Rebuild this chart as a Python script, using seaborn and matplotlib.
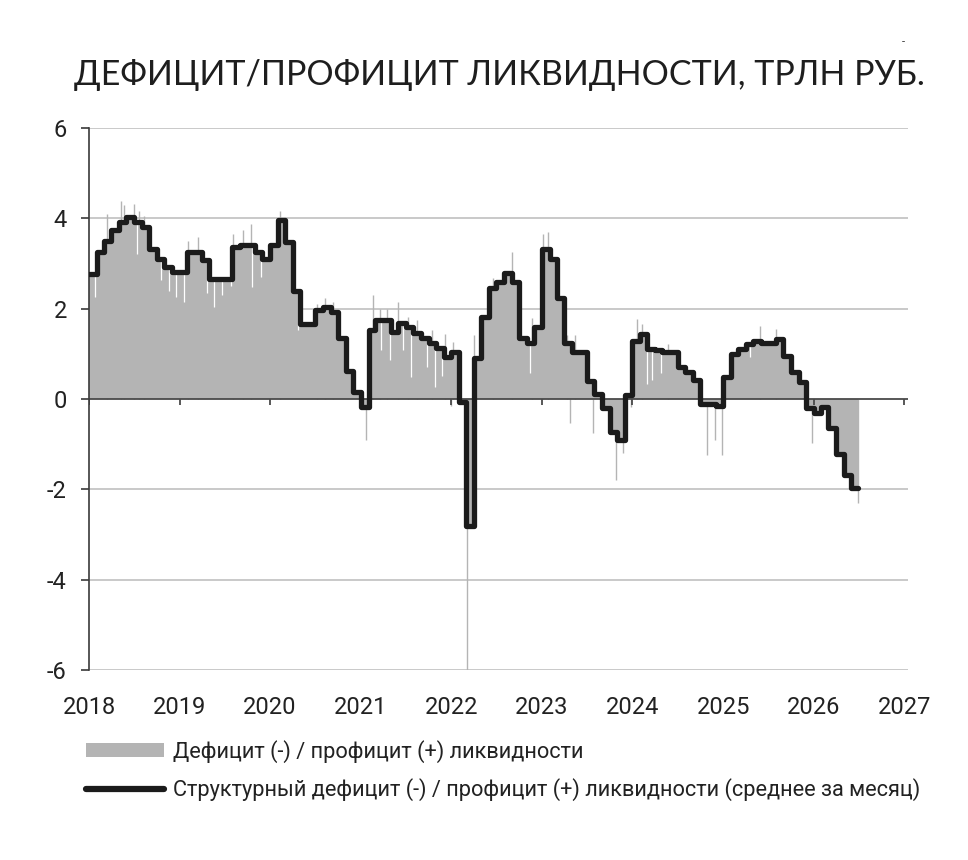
"""Liquidity deficit / surplus of the Russian banking sector, trn RUB."""

import numpy as np
import pandas as pd
import matplotlib
matplotlib.use("Agg")
import matplotlib.pyplot as plt
import matplotlib.dates as mdates
from matplotlib.patches import Patch
from matplotlib.lines import Line2D
import seaborn as sns

TITLE = "ДЕФИЦИТ/ПРОФИЦИТ ЛИКВИДНОСТИ, ТРЛН РУБ."
LABEL_DAILY = "Дефицит (-) / профицит (+) ликвидности"
LABEL_STRUCT = "Структурный дефицит (-) / профицит (+) ликвидности (среднее за месяц)"

MONTH_START = "2018-01-01"
DATA_END = "2026-06-27"

# monthly average structural liquidity, Jan 2018 .. Jun 2026
structural = [
    2.77, 3.25, 3.50, 3.74, 3.91, 4.02, 3.91, 3.80, 3.32, 3.10, 2.92, 2.81,
    2.81, 3.25, 3.25, 3.07, 2.66, 2.66, 2.66, 3.36, 3.40, 3.40, 3.25, 3.10,
    3.40, 3.96, 3.47, 2.40, 1.67, 1.67, 1.96, 2.04, 1.93, 1.35, 0.61, 0.15,
    -0.18, 1.53, 1.75, 1.75, 1.49, 1.68, 1.60, 1.46, 1.35, 1.24, 1.13, 0.94,
    1.03, -0.07, -2.81, 0.90, 1.82, 2.45, 2.60, 2.78, 2.60, 1.35, 1.24, 1.60,
    3.33, 3.11, 2.23, 1.24, 1.05, 1.05, 0.40, 0.12, -0.19, -0.73, -0.91, 0.08,
    1.29, 1.44, 1.11, 1.08, 1.04, 1.04, 0.71, 0.60, 0.41, -0.12, -0.12, -0.16,
    0.49, 1.00, 1.11, 1.22, 1.29, 1.24, 1.24, 1.33, 0.96, 0.60, 0.37, -0.21,
    -0.32, -0.18, -0.65, -1.21, -1.68, -1.98,
]

# single days where the daily balance jumped away from the monthly level
spike_dates = [
    "2018-03-15", "2018-05-12", "2018-05-24", "2018-07-03", "2018-07-23", "2018-08-12",
    "2019-02-03", "2019-03-15", "2019-08-03", "2019-09-12", "2019-10-18", "2020-02-09",
    "2020-07-07", "2020-08-08", "2020-09-10", "2021-01-21", "2021-02-17", "2021-03-18",
    "2021-04-15", "2021-05-30", "2021-07-09", "2021-08-15", "2021-10-15", "2021-12-06",
    "2021-12-29", "2022-01-07", "2022-03-04", "2022-04-02", "2022-06-18", "2022-09-03",
    "2022-11-22", "2023-01-05", "2023-01-25", "2023-04-11", "2023-04-26", "2023-05-14",
    "2023-07-25", "2023-10-26", "2023-11-23", "2023-12-28", "2024-01-18", "2024-02-07",
    "2024-05-23", "2024-10-27", "2024-11-30", "2024-12-27", "2025-05-31", "2025-08-03",
    "2025-12-25", "2026-06-27",
]
spike_values = [
    4.10, 4.39, 4.30, 4.32, 4.17, 4.06,
    3.50, 3.58, 3.66, 3.75, 3.88, 4.17,
    2.10, 2.23, 2.15, -0.90, 2.30, 2.00,
    2.00, 2.15, 1.82, 1.75, 1.53, 1.45,
    -0.16, 1.27, -6.00, 1.42, 2.67, 3.26,
    1.79, 3.66, 3.70, 1.42, -0.53, 1.42,
    -0.76, -1.79, -1.20, -0.18, 1.77, 1.66,
    1.22, -1.24, -0.91, -1.24, 1.62, 1.55,
    -0.98, -2.30,
]

# single days where the daily balance dipped inside a positive month
dip_dates = [
    "2018-01-24", "2018-05-02", "2018-07-15", "2018-10-20", "2018-11-21", "2018-12-19",
    "2019-01-21", "2019-04-23", "2019-05-21", "2019-06-22", "2019-07-29", "2019-10-22",
    "2019-11-27", "2020-04-21", "2021-03-25", "2021-04-27", "2021-06-19", "2021-07-24",
    "2021-09-23", "2021-10-27", "2021-11-23", "2022-11-13", "2024-02-27", "2024-03-18",
    "2024-04-27", "2025-04-20",
]
dip_values = [
    2.25, 3.73, 3.22, 2.63, 2.40, 2.25,
    2.15, 2.34, 2.04, 2.30, 2.50, 2.48,
    2.70, 1.52, 1.08, 0.86, 1.08, 0.49,
    0.71, 0.27, 0.50, 0.57, 0.34, 0.42,
    0.57, 0.93,
]

YEARS = list(range(2018, 2028))
Y_TICKS = [-6, -4, -2, 0, 2, 4, 6]

GREY = "#b4b4b4"
LINE = "#1b1b1b"
NARROW = ["Roboto", "DejaVu Sans"]


def build_frames():
    months = pd.date_range(MONTH_START, periods=len(structural), freq="MS")
    monthly = pd.DataFrame({"date": months, "value": structural})
    # close the last step at the end of the data
    tail = pd.DataFrame({"date": [pd.Timestamp(DATA_END)], "value": [structural[-1]]})
    monthly = pd.concat([monthly, tail], ignore_index=True)
    spikes = pd.DataFrame({"date": pd.to_datetime(spike_dates), "value": spike_values})
    dips = pd.DataFrame({"date": pd.to_datetime(dip_dates), "value": dip_values})
    idx = (dips["date"].dt.year - 2018) * 12 + dips["date"].dt.month - 1
    dips["top"] = [structural[i] for i in idx]
    return monthly, spikes, dips


def plot(monthly, spikes, dips):
    sns.set_style("white")
    plt.rcParams["font.family"] = NARROW

    fig = plt.figure(figsize=(9.68, 8.6), dpi=100)
    ax = fig.add_axes([89 / 968, 1 - 670 / 860, (908 - 89) / 968, (670 - 128) / 860])

    for y in Y_TICKS:
        if y != 0:
            ax.axhline(y, color="#c9c9c9", lw=1.4, zorder=0)

    ax.fill_between(monthly["date"], 0, monthly["value"], step="post",
                    color=GREY, lw=0, zorder=1)
    ax.vlines(spikes["date"], 0, spikes["value"], color=GREY, lw=1.0, zorder=1)
    ax.vlines(dips["date"], dips["value"], dips["top"], color="white", lw=0.9, zorder=1.5)

    ax.axhline(0, color="#4a4a4a", lw=1.3, zorder=2)
    year_dates = pd.to_datetime([f"{y}-01-01" for y in YEARS])
    ax.vlines(year_dates, -0.13, 0, color="#4a4a4a", lw=1.3, zorder=2)

    sns.lineplot(data=monthly, x="date", y="value", drawstyle="steps-post",
                 color=LINE, lw=3.8, ax=ax, zorder=3)

    ax.set_ylim(-6, 6)
    ax.set_xlim(pd.Timestamp("2018-01-01"), pd.Timestamp("2027-01-16"))
    ax.set_yticks(Y_TICKS)
    ax.set_yticklabels([str(v) for v in Y_TICKS])
    ax.set_xticks(year_dates)
    ax.xaxis.set_major_formatter(mdates.DateFormatter("%Y"))
    ax.set(xlabel="", ylabel="")

    for side in ["top", "right", "bottom"]:
        ax.spines[side].set_visible(False)
    ax.spines["left"].set_color("#3a3a3a")
    ax.spines["left"].set_linewidth(1.2)
    ax.tick_params(axis="y", left=True, length=6, width=1.2, color="#3a3a3a",
                   labelsize=17, pad=10, labelcolor="#222222")
    ax.tick_params(axis="x", bottom=False, length=0, labelsize=17, pad=19,
                   labelcolor="#222222")

    fig.text(499 / 968, 1 - 75 / 860, TITLE, ha="center", va="center",
             fontsize=24.5, color="#1e1e1e", family=["Lato", "DejaVu Sans"])
    fig.text(903 / 968, 1 - 42 / 860, "-", ha="center", va="center",
             fontsize=8, color="#333333")

    handles = [
        Patch(facecolor=GREY, edgecolor="none"),
        Line2D([0], [0], color=LINE, lw=4.5, solid_capstyle="round"),
    ]
    fig.legend(handles, [LABEL_DAILY, LABEL_STRUCT], loc="upper left",
               bbox_to_anchor=(66 / 968, 1 - 720 / 860), frameon=False,
               fontsize=15.7, handlelength=3.6, handleheight=0.65,
               handletextpad=0.4, labelspacing=0.72, labelcolor="#222222")

    fig.savefig("out.png", dpi=100)
    plt.close(fig)


if __name__ == "__main__":
    monthly, spikes, dips = build_frames()
    plot(monthly, spikes, dips)
